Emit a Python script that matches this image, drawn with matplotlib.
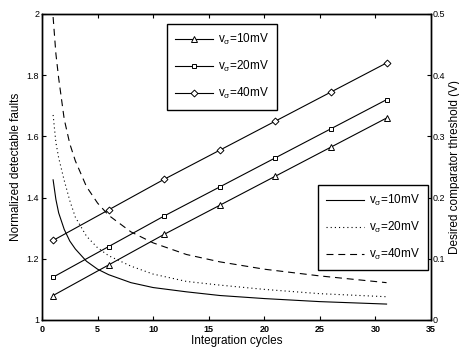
import matplotlib
matplotlib.use('Agg')
import matplotlib.pyplot as plt

plt.rcParams['font.family'] = ['Liberation Sans', 'DejaVu Sans']
plt.rcParams['mathtext.fontset'] = 'custom'
plt.rcParams['mathtext.rm'] = 'Liberation Sans'
plt.rcParams['mathtext.it'] = 'Liberation Sans'
plt.rcParams['mathtext.default'] = 'regular'
plt.rcParams['lines.scale_dashes'] = False

# detectable faults (left axis)
cycles = [1, 6, 11, 16, 21, 26, 31]
faults_10 = [1.08, 1.18, 1.28, 1.375, 1.47, 1.565, 1.66]
faults_20 = [1.14, 1.24, 1.34, 1.435, 1.53, 1.625, 1.72]
faults_40 = [1.26, 1.36, 1.46, 1.555, 1.65, 1.745, 1.84]

# comparator threshold (right axis)
n_thr = [1, 1.25, 1.5, 2, 2.5, 3, 4, 5, 6, 8, 10, 13, 16, 20, 25, 31]
thr_10 = [0.229, 0.197, 0.175, 0.148, 0.129, 0.116, 0.096, 0.083, 0.074,
          0.061, 0.053, 0.046, 0.040, 0.035, 0.030, 0.026]
thr_20 = [0.335, 0.29, 0.265, 0.228, 0.195, 0.168, 0.137, 0.118, 0.105,
          0.088, 0.075, 0.063, 0.057, 0.050, 0.043, 0.038]
thr_40 = [0.495, 0.435, 0.395, 0.328, 0.288, 0.26, 0.218, 0.191, 0.171,
          0.144, 0.126, 0.107, 0.095, 0.083, 0.072, 0.061]

labels = [r'v$_\sigma$=10mV', r'v$_\sigma$=20mV', r'v$_\sigma$=40mV']

fig = plt.figure(figsize=(4.6, 3.48), dpi=100)
ax = fig.add_axes([0.0913, 0.0805, 0.8457, 0.8793])
ax2 = ax.twinx()

mk = dict(color='black', lw=0.8, markersize=4, markerfacecolor='white',
          markeredgewidth=0.7)
ax.plot(cycles, faults_10, marker='^', label=labels[0], **mk)
ax.plot(cycles, faults_20, marker='s', label=labels[1], **dict(mk, markersize=3.5))
ax.plot(cycles, faults_40, marker='D', label=labels[2], **dict(mk, markersize=3.5))

ax2.plot(n_thr, thr_10, color='black', lw=0.8, label=labels[0])
ax2.plot(n_thr, thr_20, color='black', lw=0.8, linestyle=(0, (0.8, 2.2)), label=labels[1])
ax2.plot(n_thr, thr_40, color='black', lw=0.8, linestyle=(0, (5, 3.5)), label=labels[2])

ax.set_xlim(0, 35)
ax.set_ylim(1, 2)
ax2.set_ylim(0, 0.5)
ax.set_xticks(range(0, 36, 5))
ax.set_yticks([1, 1.2, 1.4, 1.6, 1.8, 2])
ax.set_yticklabels(['1', '1.2', '1.4', '1.6', '1.8', '2'])
ax2.set_yticks([0, 0.1, 0.2, 0.3, 0.4, 0.5])
ax2.set_yticklabels(['0', '0.1', '0.2', '0.3', '0.4', '0.5'])

ax.tick_params(axis='x', direction='in', top=True, labelsize=6.5, length=3, pad=3.5)
ax.tick_params(axis='y', direction='in', labelsize=6.5, length=3, pad=2)
ax2.tick_params(axis='y', direction='in', labelsize=6.5, length=3, pad=1)
for t in ax.get_xticklabels():
    t.set_fontweight('bold')
for a in (ax, ax2):
    for s in a.spines.values():
        s.set_linewidth(1.0)

ax.set_xlabel('Integration cycles', fontsize=8.5, labelpad=1)
ax.set_ylabel('Normalized detectable faults', fontsize=8.5, labelpad=3)
ax2.set_ylabel('Desired comparator threshold (V)', fontsize=8.5, labelpad=3)

lg_kw = dict(loc='upper left', fontsize=8.5, frameon=True, fancybox=False,
             edgecolor='black', framealpha=1, borderaxespad=0,
             labelspacing=1.0, handlelength=3.2, handletextpad=0.4,
             borderpad=0.7)
leg1 = ax.legend(bbox_to_anchor=(0.321, 0.967), **lg_kw)
leg1.get_frame().set_linewidth(1.0)
leg2 = ax2.legend(bbox_to_anchor=(0.7095, 0.441), **lg_kw)
leg2.get_frame().set_linewidth(1.0)

fig.savefig('out.png', dpi=100)
